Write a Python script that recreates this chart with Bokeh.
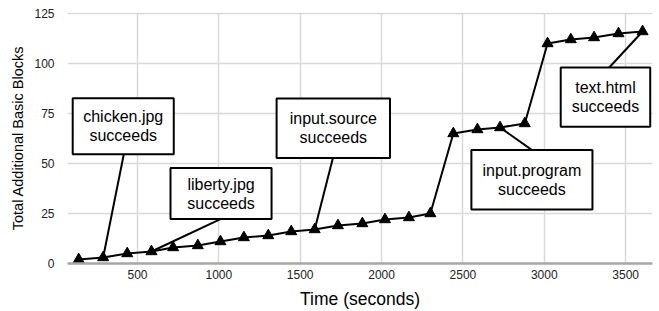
from bokeh.plotting import figure
from bokeh.models import ColumnDataSource, FixedTicker, Range1d
from bokeh.core.properties import value
from bokeh.embed import file_html
from bokeh.resources import INLINE

# ---- data ----
time_s = [139, 289, 437, 586, 719, 871, 1010, 1154, 1304, 1445, 1589, 1732, 1882,
          2021, 2168, 2300, 2441, 2589, 2728, 2880, 3020, 3163, 3306, 3456, 3604]
blocks = [2, 3, 5, 6, 8, 9, 11, 13, 14, 16, 17, 19, 20,
          22, 23, 25, 65, 67, 68, 70, 110, 112, 113, 115, 116]
x_ticks = [500, 1000, 1500, 2000, 2500, 3000, 3500]
y_ticks = [0, 25, 50, 75, 100, 125]
ann_line1 = ["chicken.jpg", "liberty.jpg", "input.source", "input.program", "text.html"]
ann_line2 = ["succeeds", "succeeds", "succeeds", "succeeds", "succeeds"]
ann_point = [1, 3, 10, 18, 24]  # index of the data point each note refers to

# ---- annotation layout (box extents in data units) ----
box_left = [102, 703, 1355, 2552, 3101]
box_right = [723, 1324, 2052, 3296, 3651]
box_bottom = [54.6, 22.2, 52.7, 27.0, 68.4]
box_top = [82.6, 47.7, 82.5, 56.8, 98.0]
lead_x0 = [416, 1010, 1701, 2923, 3399]
lead_y0 = [54.6, 22.2, 52.7, 56.8, 98.0]

FONT = "Liberation Sans"

p = figure(width=659, height=311, output_backend="svg", toolbar_location=None,
           x_range=Range1d(70, 3665), y_range=Range1d(0, 125.5),
           min_border_left=67, min_border_right=7, min_border_top=12, min_border_bottom=46)
p.outline_line_color = None
p.background_fill_color = "white"

# grid
p.xgrid.ticker = FixedTicker(ticks=x_ticks)
p.ygrid.ticker = FixedTicker(ticks=y_ticks)
for g in (p.xgrid, p.ygrid):
    g.grid_line_color = "#d9d9d9"
    g.grid_line_width = 1.5

# axes
p.xaxis.ticker = FixedTicker(ticks=x_ticks)
p.yaxis.ticker = FixedTicker(ticks=y_ticks)
p.xaxis.axis_line_color = "#a6a6a6"
p.xaxis.axis_line_width = 2.5
p.yaxis.axis_line_color = None
for ax in (p.xaxis, p.yaxis):
    ax.major_tick_line_color = None
    ax.minor_tick_line_color = None
    ax.major_label_text_font = FONT
    ax.major_label_text_font_size = "12px"
    ax.major_label_text_color = "#222222"
    ax.axis_label_text_font = FONT
    ax.axis_label_text_font_style = "normal"
    ax.axis_label_text_color = "black"
p.xaxis.major_label_standoff = 0
p.yaxis.major_label_standoff = 7
p.xaxis.axis_label = "Time (seconds)"
p.xaxis.axis_label_text_font_size = "17.5px"
p.xaxis.axis_label_standoff = 7
p.yaxis.axis_label = "Total Additional Basic Blocks"
p.yaxis.axis_label_text_font_size = "14.5px"
p.yaxis.axis_label_standoff = 5

# data line + markers
src = ColumnDataSource(dict(x=time_s, y=blocks))
p.line("x", "y", source=src, line_color="black", line_width=2)
p.scatter("x", "y", source=src, marker="triangle", size=11,
          fill_color="black", line_color="black")

# leader lines
lead_x1 = [time_s[i] for i in ann_point]
lead_y1 = [blocks[i] for i in ann_point]
p.segment(x0=lead_x0, y0=lead_y0, x1=lead_x1, y1=lead_y1,
          line_color="black", line_width=2)

# boxes
p.quad(left=box_left, right=box_right, bottom=box_bottom, top=box_top,
       fill_color="white", line_color="black", line_width=2)

# texts
cx = [(l + r) / 2 for l, r in zip(box_left, box_right)]
mid = [(b + t) / 2 for b, t in zip(box_bottom, box_top)]
line_gap = 4.7
p.text(x=cx, y=[m + line_gap for m in mid], text=ann_line1,
       text_font=value(FONT), text_font_size="16px", text_color="black",
       text_align="center", text_baseline="middle")
p.text(x=cx, y=[m - line_gap for m in mid], text=ann_line2,
       text_font=value(FONT), text_font_size="16px", text_color="black",
       text_align="center", text_baseline="middle")

open("out.html", "w").write(file_html(p, INLINE))
